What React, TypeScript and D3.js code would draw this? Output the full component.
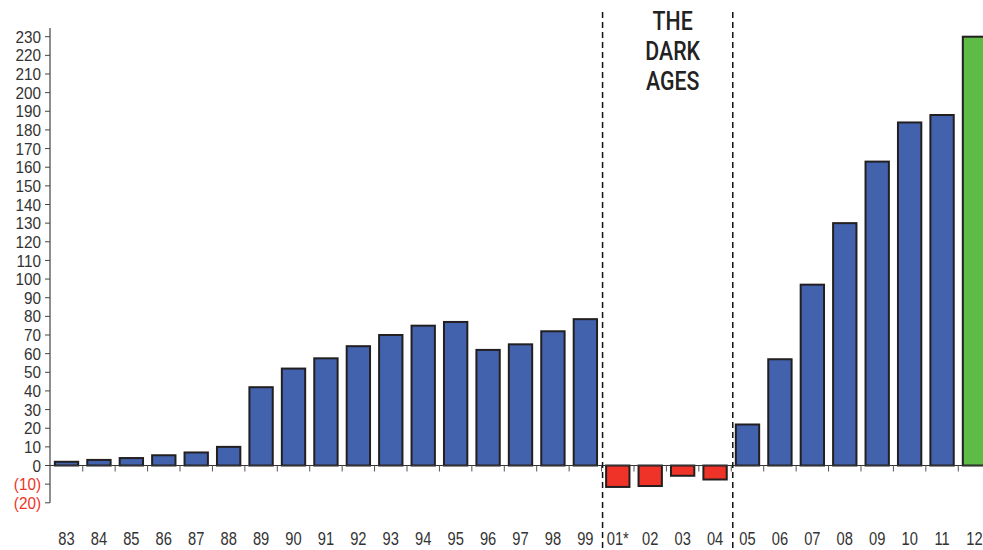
import React from "react";
import * as d3 from "d3";

const years = ["83","84","85","86","87","88","89","90","91","92","93","94","95","96","97","98","99","01*","02","03","04","05","06","07","08","09","10","11","12"];
const values = [2,3,4,5.5,7,10,42,52,57.5,64,70,75,77,62,65,72,78.5,-11.5,-11,-5.5,-7.5,22,57,97,130,163,184,188,230];
const highlighted = ["12"];
const yTicks = d3.range(-20, 231, 10);
const darkAgesStart = "01*";
const darkAgesEnd = "04";
const titleLines = ["THE", "DARK", "AGES"];

const W = 983;
const H = 550;

export default function App() {
  const x = d3.scaleBand<string>().domain(years).range([50.3, 990.7]).paddingInner(0.28).paddingOuter(0.14);
  const y = d3.scaleLinear().domain([-20, 230]).range([502.8, 36.7]);
  const step = x.step();
  const left = 50.3;
  const boundary = (i: number) => left + i * step;
  const i0 = years.indexOf(darkAgesStart);
  const i1 = years.indexOf(darkAgesEnd) + 1;
  const xs = boundary(i0) + 1;
  const xe = boundary(i1) + 1.5;
  const color = (yr: string, v: number) => highlighted.includes(yr) ? "#5dbb46" : v < 0 ? "#ef3328" : "#4262ae";
  const fmt = (v: number) => v < 0 ? `(${-v})` : `${v}`;
  const zero = y(0);
  return (
    <svg width={W} height={H} style={{ position: "absolute", left: 0, top: 0, background: "#fff" }}>
      {years.map((yr, i) => {
        const v = values[i];
        const top = Math.min(y(v), zero);
        const h = Math.abs(y(v) - zero);
        return (
          <rect key={yr} x={x(yr)} y={top} width={x.bandwidth()} height={h}
            fill={color(yr, v)} stroke="#231f20" strokeWidth={2} />
        );
      })}
      <line x1={50} x2={W} y1={zero} y2={zero} stroke="#333" strokeWidth={1.2} />
      {d3.range(1, years.length).map(i => (
        <line key={i} x1={boundary(i)} x2={boundary(i)} y1={zero} y2={zero + 6} stroke="#555" strokeWidth={1} />
      ))}
      <line x1={50} x2={50} y1={28} y2={y(-20)} stroke="#444" strokeWidth={1.2} />
      {yTicks.map(t => (
        <g key={t}>
          <line x1={45} x2={50} y1={y(t)} y2={y(t)} stroke="#444" strokeWidth={1} />
          <text transform={`translate(41,${y(t)}) scale(0.9,1)`} textAnchor="end" dy="0.36em"
            fontFamily="'Liberation Sans', Arial, sans-serif" fontSize={17}
            fill={t < 0 ? "#ef3328" : "#333"}>{fmt(t)}</text>
        </g>
      ))}
      {years.map(yr => (
        <text key={yr} transform={`translate(${x(yr)! + x.bandwidth() / 2},545) scale(0.84,1)`} textAnchor="middle"
          fontFamily="'Liberation Sans', Arial, sans-serif" fontSize={17.5}
          fill="#333">{yr}</text>
      ))}
      {[xs, xe].map((xx, k) => (
        <line key={k} x1={xx} x2={xx} y1={12} y2={H} stroke="#111" strokeWidth={1.5} strokeDasharray="6,4" />
      ))}
      {titleLines.map((s, k) => (
        <text key={s} transform={`translate(${(xs + xe) / 2 + 5},${30 + k * 30}) scale(0.82,1)`} textAnchor="middle"
          fontFamily="Roboto, 'Liberation Sans', sans-serif" fontWeight={500} fontSize={26}
          fill="#222">{s}</text>
      ))}
    </svg>
  );
}
